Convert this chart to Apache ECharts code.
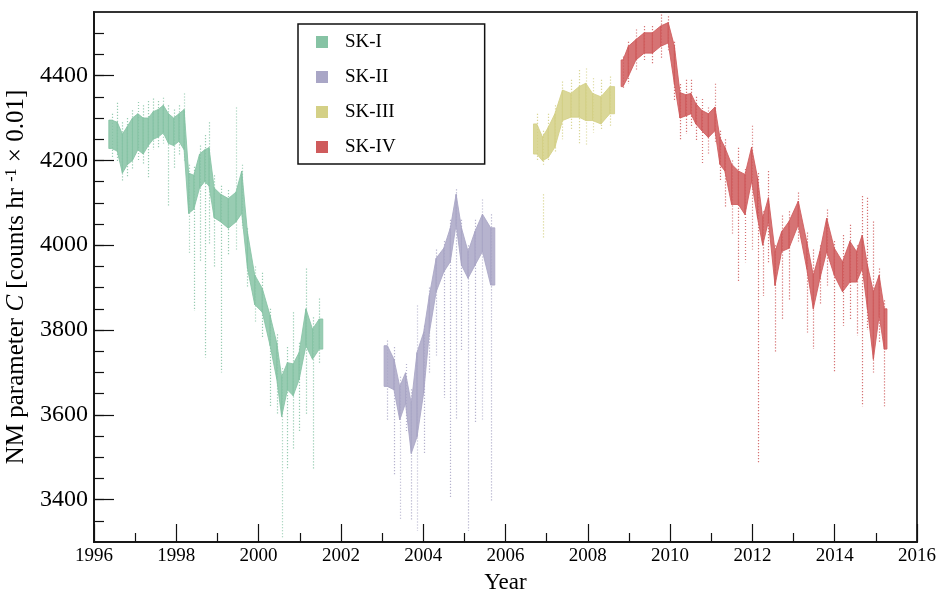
<!DOCTYPE html>
<html><head><meta charset="utf-8">
<script src="https://cdn.jsdelivr.net/npm/echarts@6/dist/echarts.min.js"></script>
<style>html,body{margin:0;padding:0;background:#fff}#c{width:940px;height:595px}</style>
</head><body><div id="c"></div>
<script>
// ---------- data ----------
const seriesNames = ['SK-I', 'SK-II', 'SK-III', 'SK-IV'];
const seriesColors = ['#86c3a4', '#a9a6c6', '#d4d086', '#cf5b5c'];
const yMajorTicks = [3400, 3600, 3800, 4000, 4200, 4400];
const yMinorTicks = [3350, 3400, 3450, 3500, 3550, 3600, 3650, 3700, 3750, 3800, 3850, 3900, 3950, 4000,
  4050, 4100, 4150, 4200, 4250, 4300, 4350, 4400, 4450, 4500];

// rows: [yearStart, yearEnd, coreLow, coreHigh, tailLow, tailHigh]
const skI = [
  [1996.36, 1996.50, 4228, 4295, 4205, 4310],
  [1996.50, 1996.63, 4222, 4290, 4195, 4336],
  [1996.63, 1996.75, 4170, 4262, 4150, 4290],
  [1996.75, 1996.87, 4190, 4280, 4160, 4300],
  [1996.87, 1997.00, 4200, 4300, 4180, 4318],
  [1997.00, 1997.13, 4225, 4310, 4200, 4338],
  [1997.13, 1997.26, 4215, 4300, 4190, 4330],
  [1997.26, 1997.38, 4235, 4300, 4160, 4340],
  [1997.38, 1997.50, 4250, 4315, 4225, 4346],
  [1997.50, 1997.62, 4255, 4320, 4230, 4340],
  [1997.62, 1997.75, 4265, 4330, 4240, 4348],
  [1997.75, 1997.87, 4240, 4310, 4090, 4330],
  [1997.87, 1998.00, 4235, 4300, 4180, 4320],
  [1998.00, 1998.13, 4245, 4310, 4210, 4330],
  [1998.13, 1998.25, 4225, 4320, 4200, 4358],
  [1998.25, 1998.35, 4075, 4170, 3980, 4190],
  [1998.35, 1998.50, 4085, 4165, 3845, 4185],
  [1998.50, 1998.63, 4135, 4215, 3960, 4235],
  [1998.63, 1998.75, 4150, 4225, 3735, 4260],
  [1998.75, 1998.84, 4140, 4230, 4000, 4290],
  [1998.84, 1999.00, 4065, 4135, 3950, 4165],
  [1999.00, 1999.16, 4055, 4120, 3700, 4140],
  [1999.16, 1999.37, 4040, 4110, 3975, 4130],
  [1999.37, 1999.53, 4055, 4125, 3990, 4325],
  [1999.53, 1999.65, 4075, 4175, 4040, 4190],
  [1999.65, 1999.81, 3945, 4030, 3900, 4040],
  [1999.81, 2000.00, 3860, 3930, 3820, 3950],
  [2000.00, 2000.18, 3842, 3898, 3780, 3935],
  [2000.18, 2000.38, 3763, 3834, 3620, 3850],
  [2000.38, 2000.50, 3685, 3770, 3600, 3790],
  [2000.50, 2000.62, 3596, 3690, 3310, 3710],
  [2000.62, 2000.78, 3659, 3723, 3470, 3760],
  [2000.78, 2000.90, 3645, 3720, 3520, 3842],
  [2000.90, 2001.07, 3683, 3747, 3560, 3770],
  [2001.07, 2001.23, 3763, 3850, 3600, 3945],
  [2001.23, 2001.39, 3731, 3802, 3470, 3830],
  [2001.39, 2001.56, 3755, 3826, 3720, 3874]
];
const skII = [
  [2003.05, 2003.21, 3667, 3763, 3588, 3775],
  [2003.21, 2003.37, 3659, 3731, 3460, 3760],
  [2003.37, 2003.49, 3588, 3667, 3350, 3690],
  [2003.49, 2003.65, 3627, 3699, 3560, 3720],
  [2003.65, 2003.77, 3509, 3627, 3350, 3660],
  [2003.77, 2003.93, 3548, 3747, 3326, 3858],
  [2003.93, 2004.09, 3651, 3794, 3509, 3810],
  [2004.09, 2004.21, 3794, 3882, 3700, 3900],
  [2004.21, 2004.42, 3890, 3969, 3740, 3990],
  [2004.42, 2004.58, 3937, 3993, 3640, 4010],
  [2004.58, 2004.74, 3961, 4041, 3406, 4060],
  [2004.74, 2004.86, 4049, 4120, 3588, 4132],
  [2004.86, 2005.00, 3953, 4041, 3750, 4060],
  [2005.00, 2005.18, 3922, 3985, 3326, 4000],
  [2005.18, 2005.34, 3953, 4033, 3580, 4060],
  [2005.34, 2005.54, 3985, 4073, 3588, 4108],
  [2005.54, 2005.74, 3906, 4041, 3398, 4073]
];
const skIII = [
  [2006.68, 2006.84, 4215, 4286, 4199, 4310],
  [2006.84, 2006.96, 4199, 4255, 4190, 4270],
  [2006.96, 2007.12, 4207, 4278, 4200, 4310],
  [2007.12, 2007.28, 4231, 4310, 4220, 4330],
  [2007.28, 2007.49, 4294, 4366, 4250, 4386],
  [2007.49, 2007.69, 4302, 4358, 4270, 4390],
  [2007.69, 2007.89, 4302, 4374, 4239, 4413],
  [2007.89, 2008.01, 4294, 4382, 4235, 4417],
  [2008.01, 2008.22, 4294, 4358, 4265, 4394],
  [2008.22, 2008.42, 4286, 4350, 4270, 4390],
  [2008.42, 2008.65, 4310, 4374, 4280, 4398]
];
// detached streaks: [year, low, high]
const skIIIStreaks = [
  [2006.92, 4017, 4120]
];
const skIV = [
  [2008.81, 2008.90, 4374, 4437, 4370, 4445],
  [2008.90, 2009.07, 4398, 4469, 4380, 4480],
  [2009.07, 2009.27, 4437, 4485, 4410, 4509],
  [2009.27, 2009.47, 4453, 4501, 4437, 4517],
  [2009.47, 2009.67, 4453, 4501, 4429, 4517],
  [2009.67, 2009.87, 4469, 4517, 4440, 4544],
  [2009.87, 2010.04, 4477, 4525, 4460, 4540],
  [2010.04, 2010.17, 4380, 4469, 4340, 4480],
  [2010.17, 2010.31, 4300, 4360, 4250, 4380],
  [2010.31, 2010.45, 4305, 4355, 4262, 4390],
  [2010.45, 2010.56, 4310, 4358, 4280, 4390],
  [2010.56, 2010.69, 4286, 4334, 4246, 4350],
  [2010.69, 2010.85, 4270, 4318, 4191, 4345],
  [2010.85, 2011.01, 4254, 4310, 4215, 4325],
  [2011.01, 2011.17, 4270, 4326, 4240, 4381],
  [2011.17, 2011.25, 4191, 4254, 4150, 4270],
  [2011.25, 2011.41, 4175, 4231, 4088, 4250],
  [2011.41, 2011.58, 4096, 4191, 4024, 4200],
  [2011.58, 2011.74, 4096, 4175, 3913, 4230],
  [2011.74, 2011.90, 4072, 4167, 3960, 4180],
  [2011.90, 2012.06, 4151, 4231, 3990, 4282],
  [2012.06, 2012.19, 4064, 4159, 3485, 4170],
  [2012.19, 2012.31, 4000, 4064, 3880, 4080],
  [2012.31, 2012.47, 4056, 4112, 3960, 4175],
  [2012.47, 2012.63, 3905, 3985, 3746, 4000],
  [2012.63, 2012.79, 3985, 4032, 3826, 4070],
  [2012.79, 2012.99, 3993, 4056, 3870, 4080],
  [2012.99, 2013.24, 4048, 4104, 4009, 4124],
  [2013.24, 2013.40, 3945, 4009, 3794, 4030],
  [2013.40, 2013.56, 3850, 3929, 3755, 3990],
  [2013.56, 2013.72, 3921, 3985, 3860, 4000],
  [2013.72, 2013.89, 3985, 4064, 3905, 4084],
  [2013.89, 2014.09, 3929, 3993, 3700, 4010],
  [2014.09, 2014.29, 3890, 3961, 3810, 4024],
  [2014.29, 2014.45, 3913, 4009, 3825, 4048],
  [2014.45, 2014.61, 3913, 3985, 3787, 4000],
  [2014.61, 2014.73, 3945, 4024, 3620, 4116],
  [2014.73, 2014.86, 3850, 3953, 3800, 4112],
  [2014.86, 2015.02, 3731, 3890, 3700, 4056],
  [2015.02, 2015.14, 3834, 3929, 3771, 3945],
  [2015.14, 2015.27, 3755, 3850, 3620, 3870]
];

// ---------- rendering ----------
const FONT = '"Liberation Serif", "DejaVu Serif", serif';
const bandData = [skI, skII, skIII, skIV];

// each row draws the ribbon segment from its centre to the next row's centre
function bandItem(params, api) {
  const rows = bandData[params.seriesIndex];
  const i = params.dataIndex;
  const r = rows[i];
  const xc = (r[0] + r[1]) / 2;
  const col = api.visual('color');
  const children = [];
  const t1 = api.coord([xc, r[5]]), t2 = api.coord([xc, r[4]]);
  const xm = Math.round(t1[0]) + 0.5;
  children.push({ type: 'line', shape: { x1: xm, y1: t1[1], x2: xm, y2: t2[1] },
    style: { stroke: col, lineWidth: 1.2, lineDash: [1.2, 1.8], opacity: 0.85 } });
  const pts = [];
  if (i === 0) { pts.push(api.coord([r[0], r[3]])); }
  pts.push(api.coord([xc, r[3]]));
  if (i < rows.length - 1) {
    const nxt = rows[i + 1];
    const xn = (nxt[0] + nxt[1]) / 2;
    pts.push(api.coord([xn, nxt[3]]));
    pts.push(api.coord([xn, nxt[2]]));
  } else {
    pts.push(api.coord([r[1], r[3]]));
    pts.push(api.coord([r[1], r[2]]));
  }
  pts.push(api.coord([xc, r[2]]));
  if (i === 0) { pts.push(api.coord([r[0], r[2]])); }
  children.push({ type: 'polygon', shape: { points: pts },
    style: { fill: col, opacity: 0.85, stroke: col, lineWidth: 1 } });
  return { type: 'group', children: children };
}
function streakItem(params, api) {
  const p1 = api.coord([api.value(0), api.value(2)]), p2 = api.coord([api.value(0), api.value(1)]);
  const xm = Math.round(p1[0]) + 0.5;
  return { type: 'line', shape: { x1: xm, y1: p1[1], x2: xm, y2: p2[1] },
    style: { stroke: api.visual('color'), lineWidth: 1.2, lineDash: [1.2, 1.8], opacity: 0.85 } };
}

const series = seriesNames.map((n, i) => ({
  type: 'custom', name: n, renderItem: bandItem, clip: true,
  itemStyle: { color: seriesColors[i] },
  encode: { x: [0, 1], y: [2, 3, 4, 5] },
  data: bandData[i]
}));
series.push({
  type: 'custom', name: 'SK-III', renderItem: streakItem, clip: true,
  itemStyle: { color: seriesColors[2] },
  encode: { x: 0, y: [1, 2] },
  data: skIIIStreaks
});

const plain = v => String(Math.round(v));
const chart = echarts.init(document.getElementById('c'), null, { renderer: 'canvas' });
chart.setOption({
  animation: false,
  backgroundColor: '#fff',
  grid: { left: 94, right: 23, top: 12, bottom: 53, containLabel: false, outerBoundsMode: 'none',
    show: true, borderColor: '#333', borderWidth: 2, backgroundColor: 'transparent' },
  legend: {
    orient: 'vertical', left: 298, top: 24,
    data: seriesNames.map(n => ({ name: n, icon: 'rect' })),
    itemWidth: 12, itemHeight: 12, itemGap: 13,
    padding: [7, 89, 6, 18],
    borderColor: '#111', borderWidth: 1.5,
    selectedMode: false,
    textStyle: { fontFamily: FONT, fontSize: 19, color: '#000', lineHeight: 22, padding: [0, 0, 0, 12] }
  },
  xAxis: {
    type: 'value', min: 1996, max: 2016, interval: 2,
    name: 'Year', nameLocation: 'middle', nameGap: 29,
    nameTextStyle: { fontFamily: FONT, fontSize: 23, color: '#000' },
    axisLine: { show: true, lineStyle: { color: '#111', width: 1.5 } },
    axisTick: { show: true, inside: true, length: 18, lineStyle: { color: '#111', width: 1.2 } },
    minorTick: { show: true, splitNumber: 2, length: 9, lineStyle: { color: '#111', width: 1.2 } },
    axisLabel: { fontFamily: FONT, fontSize: 19, color: '#000', margin: 5, formatter: plain },
    splitLine: { show: false }
  },
  yAxis: [{
    type: 'value', min: 3300, max: 4550,
    name: '{r|NM parameter }{i|C}{r| [counts hr }{s|-1}{r| × 0.01]}',
    nameLocation: 'middle', nameGap: 56,
    nameTextStyle: {
      fontFamily: FONT, fontSize: 25, color: '#000',
      rich: {
        r: { fontFamily: FONT, fontSize: 25, color: '#000' },
        i: { fontFamily: FONT, fontSize: 25, color: '#000', fontStyle: 'italic' },
        s: { fontFamily: FONT, fontSize: 16, color: '#000', verticalAlign: 'top' }
      }
    },
    axisLine: { show: true, lineStyle: { color: '#111', width: 1.5 } },
    axisTick: { show: true, inside: true, length: 20, customValues: yMajorTicks, lineStyle: { color: '#111', width: 1.2 } },
    axisLabel: { fontFamily: FONT, fontSize: 24, color: '#000', margin: 6, customValues: yMajorTicks, formatter: plain },
    splitLine: { show: false }
  }, {
    type: 'value', min: 3300, max: 4550, position: 'left', offset: 0,
    axisLine: { show: false },
    axisTick: { show: true, inside: true, length: 10, customValues: yMinorTicks, lineStyle: { color: '#111', width: 1.2 } },
    axisLabel: { show: false },
    splitLine: { show: false }
  }],
  series: series
});
</script>
</body></html>
